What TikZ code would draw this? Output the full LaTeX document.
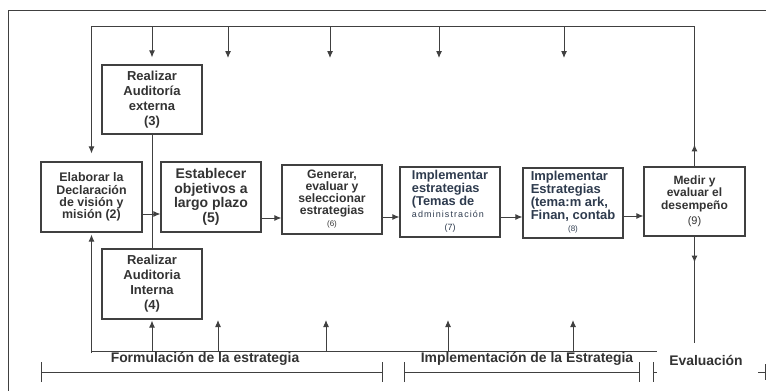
\documentclass[tikz,border=0pt]{standalone}
\usepackage{fontspec}
\setmainfont{Liberation Sans}
\newfontfamily\espaciada[LetterSpace=12]{Liberation Sans}
\usepackage{xcolor}
\usetikzlibrary{arrows.meta,positioning,calc}
\definecolor{pizarra}{HTML}{2E3B4E}

\tikzset{
    caja/.style={draw=black!75, line width=1.1pt, minimum width=100pt, minimum height=70pt,
        inner sep=1pt, align=center, text=black!80},
    linea/.style={black!75, line width=1pt},
    etiqueta/.style={inner sep=0pt, text=black!80, font=\fontsize{13.9}{16}\selectfont\bfseries},
    tramo/.style={linea, {Bar[width=20pt]}-{Bar[width=20pt]}}
}

\begin{document}
\begin{tikzpicture}[x=1pt,y=-1pt,>={Latex[length=7pt,width=6pt]}]
    \useasboundingbox (0,0) rectangle (766,391);

    % Marco exterior
    \draw[linea] (8,391) -- (8,10) -- (766,10);

    % Cajas del proceso
    \node[caja,minimum height=69pt,font=\fontsize{13}{15}\selectfont\bfseries] (ext) at (152,99.5) {Realizar\\Auditoría\\externa\\(3)};
    \node[caja,minimum width=101pt,font=\fontsize{12.4}{12.3}\selectfont\bfseries] (elab) at (91.5,197) {Elaborar la\\Declaración\\de visión y\\misión (2)};
    \node[caja,font=\fontsize{14}{14.5}\selectfont\bfseries] (estab) at (211,197) {Establecer\\objetivos a\\largo plazo\\(5)};
    \node[caja,minimum height=69pt,font=\fontsize{12.2}{12}\selectfont\bfseries] (gen) at (332,199.5) {Generar,\\evaluar y\\seleccionar\\estrategias\\{\mdseries\fontsize{8}{8}\selectfont(6)}};
    \node[caja,text=pizarra,font=\fontsize{12.8}{12.3}\selectfont\bfseries] (imp7) at (450,202) {\begin{tabular}{@{}l@{}}Implementar\\estrategias\\(Temas de\\{\espaciada\mdseries\fontsize{9}{9}\selectfont administración}\\\multicolumn{1}{@{}c@{}}{\mdseries\fontsize{9}{9}\selectfont(7)}\end{tabular}};
    \node[caja,text=pizarra,font=\fontsize{13}{12}\selectfont\bfseries] (imp8) at (573,203) {\begin{tabular}{@{}l@{}}Implementar\\Estrategias\\(tema:m ark,\\Finan, contab\\\multicolumn{1}{@{}c@{}}{\mdseries\fontsize{8}{8}\selectfont(8)}\end{tabular}};
    \node[caja,minimum width=101pt,minimum height=69pt,font=\fontsize{12}{12.5}\selectfont\bfseries] (medir) at (694.5,201.5) {Medir y\\evaluar el\\desempeño\\[3pt]{\mdseries\fontsize{11}{11}\selectfont(9)}};
    \node[caja,font=\fontsize{13}{15}\selectfont\bfseries] (int) at (152,284) {Realizar\\Auditoria\\Interna\\(4)};

    % Flujo principal
    \draw[linea,->] ([yshift=-17pt]elab.east) -- ([yshift=-17pt]elab.east -| estab.west);
    \draw[linea,->] ([yshift=-21pt]estab.east) -- ([yshift=-21pt]estab.east -| gen.west);
    \draw[linea,->] ([yshift=-17.5pt]gen.east) -- ([yshift=-17.5pt]gen.east -| imp7.west);
    \draw[linea,->] ([yshift=-15pt]imp7.east) -- ([yshift=-15pt]imp7.east -| imp8.west);
    \draw[linea,->] ([yshift=-13pt]imp8.east) -- ([yshift=-13pt]imp8.east -| medir.west);
    \draw[linea] (ext.south) -- (int.north);

    % Retroalimentacion superior
    \coordinate (arriba) at (0,26);
    \draw[linea,->,shorten >=8pt] (medir.north |- arriba) -- (elab.north |- arriba) -- (elab.north);
    \draw[linea] (medir.north) -- (medir.north |- arriba);
    \draw[linea,->] (medir.north) -- ++(0,-22);
    \draw[linea,->,shorten >=7pt] (ext.north |- arriba) -- (ext.north);
    \foreach \x [count=\i] in {228,330,439,564} {
        \coordinate (baja\i) at (\x,58);
        \draw[linea,->] (baja\i |- arriba) -- (baja\i);
    }

    % Retroalimentacion inferior
    \coordinate (abajo) at (0,351);
    \coordinate (fin) at (657,351);
    \coordinate (nivel) at (0,343);
    \draw[linea,->,shorten >=2pt] ([yshift=-2pt]elab.south |- abajo) -- (elab.south);
    \draw[linea] (elab.south |- abajo) -- (fin);
    \draw[linea,->,shorten >=1pt] (int.south |- abajo) -- (int.south);
    \foreach \x [count=\i] in {218,326,448,573} {
        \coordinate (sube\i) at (\x,320);
        \draw[linea,->] (sube\i |- abajo) -- (sube\i);
    }
    \draw[linea] (medir.south) -- (medir.south |- nivel);
    \draw[linea,->] (medir.south) -- ++(0,26);

    % Etapas
    \node[etiqueta] (formul) at (205,359) {Formulación de la estrategia};
    \node[etiqueta] (implem) at (527,359) {Implementación de la Estrategia};
    \node[etiqueta] (evalu) at (706,360) {Evaluación};
    \draw[tramo] (41,372) -- (383,372);
    \draw[tramo] (404,372) -- (640,372);
    \draw[linea] (653,362) -- (653,382) (653,372) -- (657,372);
    \draw[linea] (758,372) -- (766,372) (765,364) -- (765,380);
\end{tikzpicture}
\end{document}
